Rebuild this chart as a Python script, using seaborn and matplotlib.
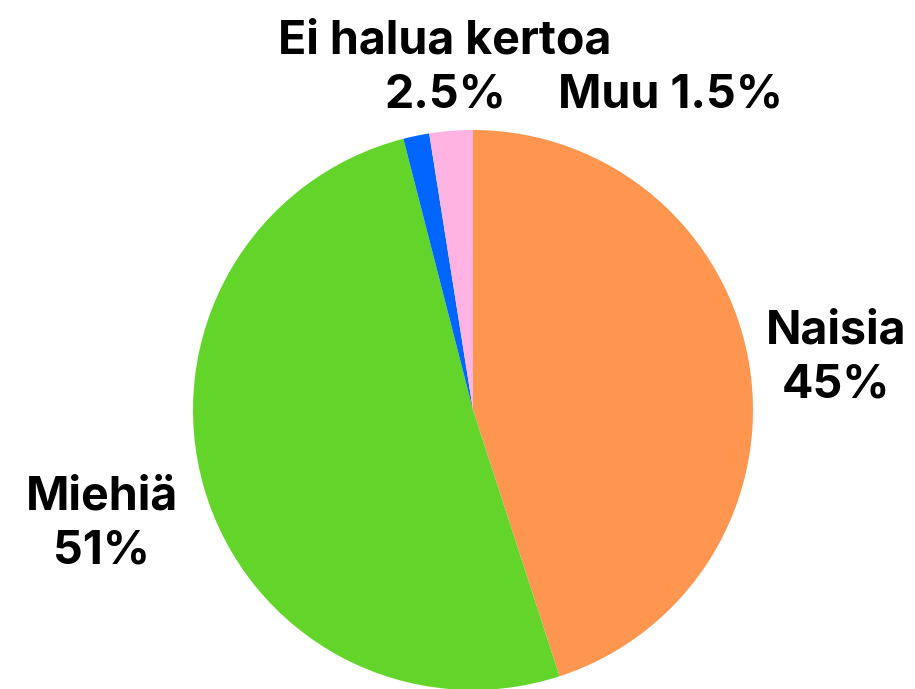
import matplotlib
matplotlib.use("Agg")
import matplotlib.pyplot as plt
import seaborn as sns

sns.set_theme(style="white")
plt.rcParams['font.family'] = ['Inter', 'DejaVu Sans']

categories = ["Naisia", "Miehiä", "Muu", "Ei halua kertoa"]
values = [45, 51, 1.5, 2.5]
colors = ["#FF9650", "#62D42A", "#0066FF", "#FFB3E3"]

W, H = 915, 689
fig = plt.figure(figsize=(W / 100, H / 100), dpi=100)
ax = fig.add_axes([0, 0, 1, 1])

cx, cy, r = 473, H - 410, 280
ax.pie(values, colors=colors, startangle=90, counterclock=False,
       center=(cx, cy), radius=r, frame=True,
       wedgeprops=dict(linewidth=0))
ax.set_xlim(0, W)
ax.set_ylim(0, H)
ax.set_aspect("equal")
ax.axis("off")

def pct(v):
    return f"{v:g}%"

# (x center, baseline of first line, baseline of second line or None)
label_pos = {
    "Naisia": (836, 343, 397),
    "Miehiä": (102, 510, 563),
    "Ei halua kertoa": (445, 53, 108),
    "Muu": (671, 108, None),
}
fs = 33.5
for cat, v in zip(categories, values):
    x, b1, b2 = label_pos[cat]
    kw = dict(ha="center", va="baseline", fontsize=fs, fontweight="bold",
              color="black")
    if b2 is None:
        ax.text(x, H - b1, f"{cat} {pct(v)}", **kw)
    else:
        ax.text(x, H - b1, cat, **kw)
        ax.text(x, H - b2, pct(v), **kw)

fig.savefig("out.png", dpi=100, facecolor="white")
